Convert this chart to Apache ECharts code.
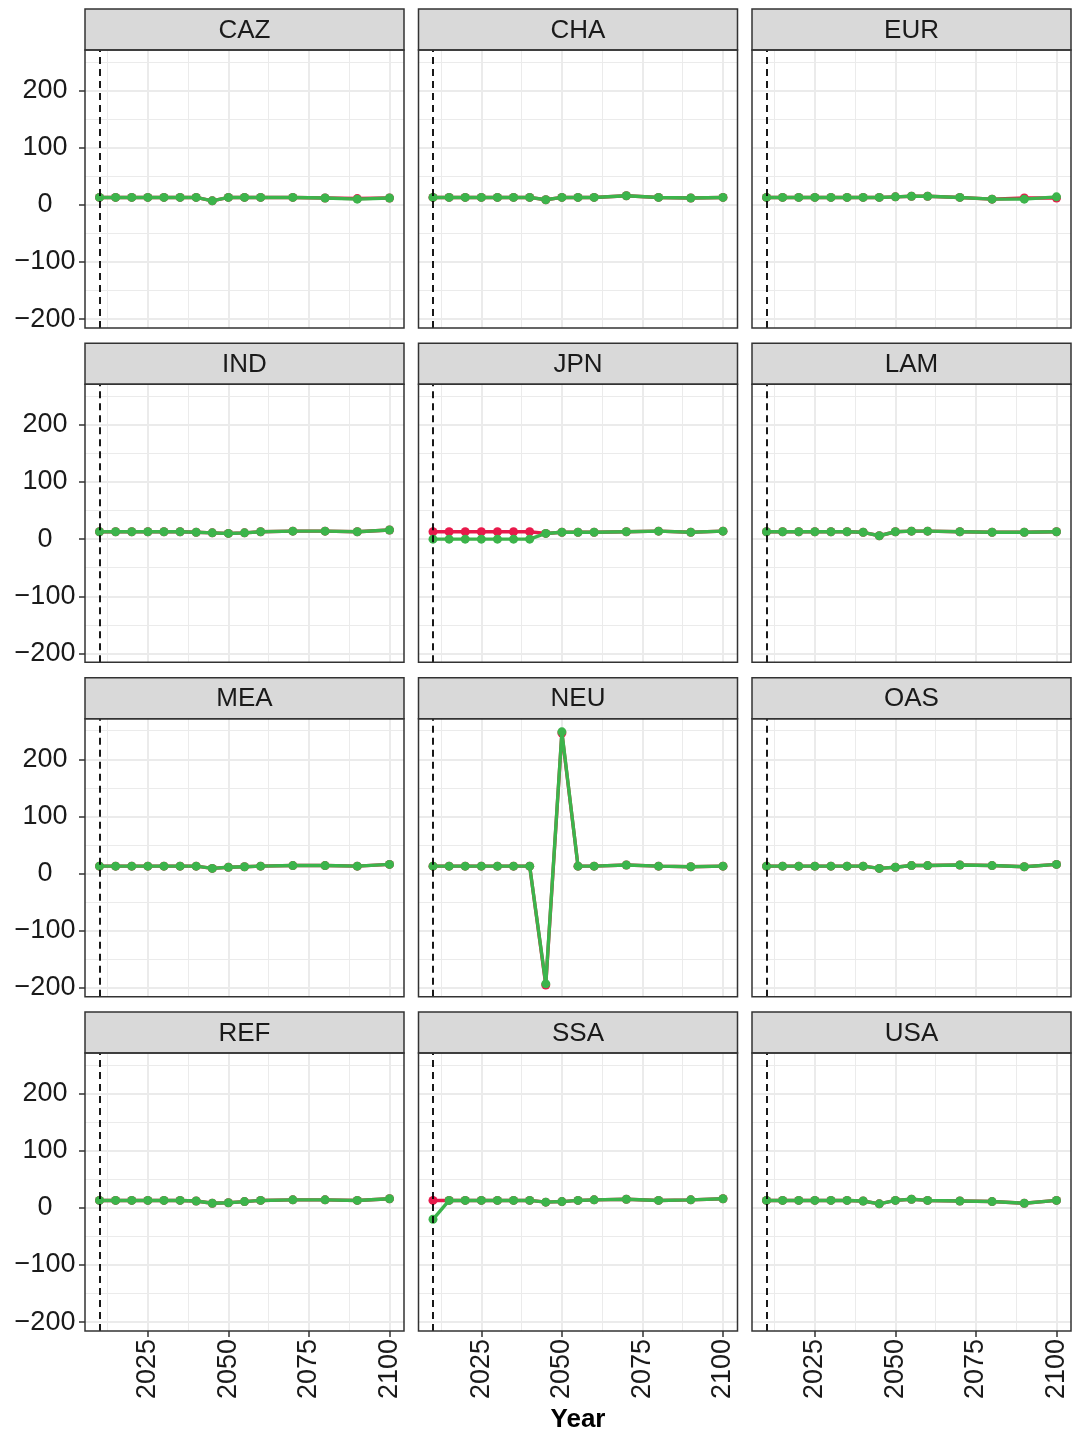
<!DOCTYPE html>
<html><head><meta charset="utf-8">
<script src="https://cdn.jsdelivr.net/npm/echarts@6/dist/echarts.min.js"></script>
<style>html,body{margin:0;padding:0;background:#fff}#c{width:1082px;height:1437px}</style>
</head><body><div id="c"></div><script>
// ---- data ----
const years = [2010,2015,2020,2025,2030,2035,2040,2045,2050,2055,2060,2070,2080,2090,2100];
const regions = ['CAZ','CHA','EUR','IND','JPN','LAM','MEA','NEU','OAS','REF','SSA','USA'];
const xTicks = [2025, 2050, 2075, 2100];
const xMinorTicks = [2012.5, 2037.5, 2062.5, 2087.5];
const yTicks = [-200, -100, 0, 100, 200];
const yMinorTicks = [-150, -50, 50, 150, 250];
const baseYear = 2010;

const CAZ_red   = [13,13,13,13,13,13,13,7,13,13,13,13,12,11,12];
const CAZ_green = [13,13,13,13,13,13,13,7,13,13,13,13,12,10,12];
const CHA_red   = [13,13,13,13,13,13,13,9,13,13,13,16,13,12,13];
const CHA_green = [13,13,13,13,13,13,13,9,13,13,13,16,13,12,13];
const EUR_red   = [13,13,13,13,13,13,13,13,14,15,15,13,10,12,12];
const EUR_green = [13,13,13,13,13,13,13,13,14,15,15,13,10,10,14];
const IND_red   = [13,13,13,13,13,13,12,11,10,11,13,14,14,13,16];
const IND_green = [13,13,13,13,13,13,12,11,10,11,13,14,14,13,16];
const JPN_red   = [13,13,13,13,13,13,13,10,12,12,12,13,14,12,14];
const JPN_green = [0,0,0,0,0,0,0,10,12,12,12,13,14,12,14];
const LAM_red   = [13,13,13,13,13,13,12,6,13,14,14,13,12,12,13];
const LAM_green = [13,13,13,13,13,13,12,6,13,14,14,13,12,12,13];
const MEA_red   = [13,13,13,13,13,13,13,9,11,12,13,14,14,13,16];
const MEA_green = [13,13,13,13,13,13,13,9,11,12,13,14,14,13,16];
const NEU_red   = [13,13,13,13,13,13,13,-195,246,13,13,15,13,12,13];
const NEU_green = [13,13,13,13,13,13,13,-193,248,13,13,15,13,12,13];
const OAS_red   = [13,13,13,13,13,13,13,9,11,14,14,15,14,12,16];
const OAS_green = [13,13,13,13,13,13,13,9,11,14,14,15,14,12,16];
const REF_red   = [13,13,13,13,13,13,12,8,9,11,13,14,14,13,16];
const REF_green = [13,13,13,13,13,13,12,8,9,11,13,14,14,13,16];
const SSA_red   = [13,13,13,13,13,13,13,10,11,13,14,15,13,14,16];
const SSA_green = [-20,13,13,13,13,13,13,10,11,13,14,15,13,14,16];
const USA_red   = [13,13,13,13,13,13,12,7,13,15,13,12,11,8,13];
const USA_green = [13,13,13,13,13,13,12,7,13,15,13,12,11,8,13];

const redData = {CAZ:CAZ_red,CHA:CHA_red,EUR:EUR_red,IND:IND_red,JPN:JPN_red,LAM:LAM_red,MEA:MEA_red,NEU:NEU_red,OAS:OAS_red,REF:REF_red,SSA:SSA_red,USA:USA_red};
const greenData = {CAZ:CAZ_green,CHA:CHA_green,EUR:EUR_green,IND:IND_green,JPN:JPN_green,LAM:LAM_green,MEA:MEA_green,NEU:NEU_green,OAS:OAS_green,REF:REF_green,SSA:SSA_green,USA:USA_green};

// ---- layout ----
const FONT = '"Liberation Sans", Arial, Helvetica, sans-serif';
const FS = 26, AFS = 27;
const colLeft = [85, 418.5, 752];
const stripTop = [9, 343.3, 677.7, 1012];
const PW = 319, SH = 41, PH = 278;
const X_MIN = 2005.5, X_MAX = 2104.5, Y_MIN = -215.5, Y_MAX = 271;
const RED = '#E8194B', GREEN = '#3CB44B';
const GRIDC = '#EBEBEB';

const grid = [], xAxis = [], yAxis = [], series = [], graphic = [];
const fmtY = v => v < 0 ? '\u2212' + Math.abs(v) : String(v);

regions.forEach((reg, i) => {
  const r = Math.floor(i / 3), c = i % 3;
  const left = colLeft[c], top = stripTop[r] + SH;
  const bottomRow = r === 3, leftCol = c === 0;
  grid.push({left: left, top: top, width: PW, height: PH, containLabel: false});
  xAxis.push({gridIndex: i, type: 'value', min: X_MIN, max: X_MAX, position: 'bottom',
    axisLine: {show: false, onZero: false},
    axisTick: {show: bottomRow, customValues: xTicks, length: 6, lineStyle: {color: '#333', width: 1.5}},
    axisLabel: {show: bottomRow, customValues: xTicks, rotate: 90, margin: 8, fontSize: AFS, color: '#1a1a1a', fontFamily: FONT, formatter: v => String(v)},
    splitLine: {show: true, lineStyle: {color: GRIDC, width: 2}}});
  xAxis.push({gridIndex: i, type: 'value', min: X_MIN, max: X_MAX, position: 'bottom',
    axisLine: {show: false, onZero: false},
    axisTick: {show: false, customValues: xMinorTicks},
    axisLabel: {show: false, customValues: xMinorTicks},
    splitLine: {show: true, lineStyle: {color: GRIDC, width: 1}}});
  yAxis.push({gridIndex: i, type: 'value', min: Y_MIN, max: Y_MAX, position: 'left',
    axisLine: {show: false, onZero: false},
    axisTick: {show: leftCol, customValues: yTicks, length: 6, lineStyle: {color: '#333', width: 1.5}},
    axisLabel: {show: leftCol, customValues: yTicks, margin: 40, align: 'center', fontSize: AFS, color: '#1a1a1a', fontFamily: FONT, formatter: fmtY},
    splitLine: {show: true, lineStyle: {color: GRIDC, width: 2}}});
  yAxis.push({gridIndex: i, type: 'value', min: Y_MIN, max: Y_MAX, position: 'left',
    axisLine: {show: false, onZero: false},
    axisTick: {show: false, customValues: yMinorTicks},
    axisLabel: {show: false, customValues: yMinorTicks},
    splitLine: {show: true, lineStyle: {color: GRIDC, width: 1}}});

  series.push({type: 'line', xAxisIndex: 2 * i, yAxisIndex: 2 * i, data: [], z: 1, silent: true,
    markLine: {silent: true, symbol: 'none', animation: false, label: {show: false},
      lineStyle: {color: '#000', type: [7, 5], width: 1.8}, data: [{xAxis: baseYear}]}});
  series.push({type: 'line', name: 'red', xAxisIndex: 2 * i, yAxisIndex: 2 * i, z: 3,
    data: years.map((y, k) => [y, redData[reg][k]]),
    symbol: 'circle', symbolSize: 9, lineStyle: {color: RED, width: 3.4}, itemStyle: {color: RED}});
  series.push({type: 'line', name: 'green', xAxisIndex: 2 * i, yAxisIndex: 2 * i, z: 4,
    data: years.map((y, k) => [y, greenData[reg][k]]),
    symbol: 'circle', symbolSize: 9, lineStyle: {color: GREEN, width: 3.4}, itemStyle: {color: GREEN}});

  graphic.push({type: 'rect', z: 100, shape: {x: left, y: stripTop[r], width: PW, height: SH},
    style: {fill: '#D9D9D9', stroke: '#333', lineWidth: 1.5}});
  graphic.push({type: 'text', z: 101, style: {text: reg, x: left + PW / 2, y: stripTop[r] + SH / 2 + 1,
    align: 'center', verticalAlign: 'middle', fontSize: FS, fontFamily: FONT, fill: '#1a1a1a'}});
  graphic.push({type: 'rect', z: 100, shape: {x: left, y: top, width: PW, height: PH},
    style: {fill: 'none', stroke: '#333', lineWidth: 1.5}});
});

graphic.push({type: 'text', z: 101, style: {text: 'Year', x: 578, y: 1420, align: 'center', verticalAlign: 'middle',
  fontSize: FS, fontWeight: 'bold', fontFamily: FONT, fill: '#000'}});

const chart = echarts.init(document.getElementById('c'), null, {renderer: 'canvas'});
chart.setOption({animation: false, backgroundColor: '#fff', grid, xAxis, yAxis, series, graphic});
</script></body></html>
